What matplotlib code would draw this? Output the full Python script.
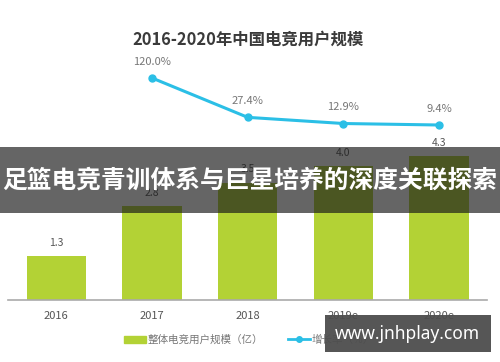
import matplotlib
matplotlib.use("Agg")
import matplotlib.pyplot as plt
from matplotlib.patches import Rectangle
from matplotlib.lines import Line2D

plt.rcParams['font.family'] = ['Noto Sans CJK SC', 'DejaVu Sans']

years = ['2016', '2017', '2018', '2019e', '2020e']
users = [1.3, 2.8, 3.5, 4.0, 4.3]
growth_years = ['2017', '2018', '2019e', '2020e']
growth = [120.0, 27.4, 12.9, 9.4]

title = '2016-2020年中国电竞用户规模'
banner = '足篮电竞青训体系与巨星培养的深度关联探索'
watermark = 'www.jnhplay.com'

green = '#b3d235'
cyan = '#2bbfe6'

W, H = 500, 362
fig = plt.figure(figsize=(W / 100, H / 100), dpi=100)

# pixel helpers
def fx(px):
    return px / W

def fy(py):
    return 1 - py / H

ax = fig.add_axes([fx(8), fy(300), fx(487) - fx(8), fy(30) - fy(300)])
x = list(range(len(years)))
ax.bar(x, users, width=0.62, color=green, zorder=2)
ax.set_xlim(-0.505, 4.5)
ax.set_ylim(0, 270 / 33.5)
for xi, v in zip(x, users):
    ax.annotate(f'{v:.1f}', (xi, v), xytext=(0, 6), textcoords='offset points',
                ha='center', va='bottom', fontsize=7.5, color='#555555')

for s in ['top', 'right', 'left']:
    ax.spines[s].set_visible(False)
ax.spines['bottom'].set_color('#aaaaaa')
ax.spines['bottom'].set_linewidth(1.2)
ax.set_yticks([])
ax.set_xticks(x)
ax.set_xticklabels(years, fontsize=8, color='#555555')
ax.tick_params(axis='x', length=0, pad=8)

ax2 = ax.twinx()
gx = [years.index(y) for y in growth_years]
ax2.plot(gx, growth, color=cyan, lw=2.2, marker='o', ms=5, zorder=3)
ax2.set_ylim((129 - 300) / 0.425, (129 - 30) / 0.425)
ax2.set_yticks([])
for s in ax2.spines.values():
    s.set_visible(False)
for xi, v in zip(gx, growth):
    ax2.annotate(f'{v:.1f}%', (xi, v), xytext=(0, 8), textcoords='offset points',
                 ha='center', va='bottom', fontsize=8, color='#777777')

fig.text(fx(248), fy(40), title, ha='center', va='center', fontsize=11.8,
         fontweight='bold', color='#3a3a3a')

handles = [Rectangle((0, 0), 1, 1, color=green),
           Line2D([], [], color=cyan, lw=2, marker='o', ms=4)]
fig.legend(handles, ['整体电竞用户规模（亿）', '增长率（%）'], ncol=2, loc='center',
           bbox_to_anchor=(fx(249), fy(340)), frameon=False, fontsize=7.6,
           handlelength=2.1, handleheight=0.7, handletextpad=0.15,
           columnspacing=2.3, labelcolor='#777777')

# overlay banner
fig.patches.append(Rectangle((0, fy(213)), 1, fy(147) - fy(213), transform=fig.transFigure,
                             facecolor='#191919', alpha=0.67, zorder=10))
fig.text(fx(250), fy(181), banner, ha='center', va='center', fontsize=17.8,
         fontweight='bold', color='white', zorder=11)

# watermark
fig.patches.append(Rectangle((fx(325), fy(352)), fx(491) - fx(325), fy(315) - fy(352),
                             transform=fig.transFigure, facecolor='#4d4d4d', alpha=0.95,
                             zorder=10))
fig.text(fx(407), fy(334), watermark, ha='center', va='center', fontsize=12.5,
         fontweight='bold', color='white', family=['Noto Sans', 'DejaVu Sans'], zorder=11)

fig.savefig('out.png', dpi=100)
